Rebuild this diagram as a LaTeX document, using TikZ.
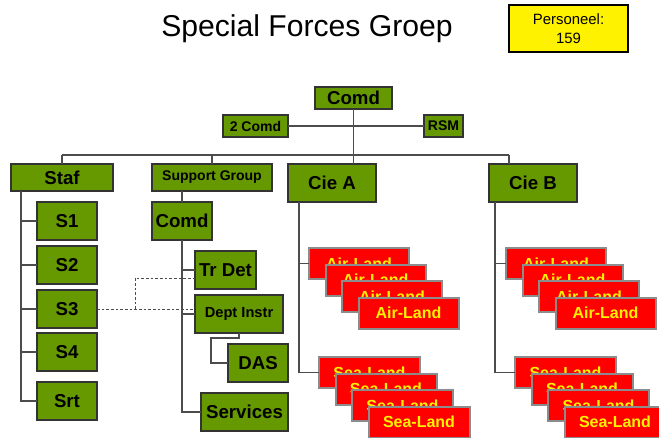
\documentclass[tikz,border=0pt]{standalone}
\usepackage{fontspec}
\setmainfont{Liberation Sans}
\definecolor{armygreen}{RGB}{102,153,0}
\tikzset{
  sz/.style 2 args={minimum width=#1*0.75pt, minimum height=#2*0.75pt},
  unit/.style={draw=black!80, line width=1pt, fill=armygreen, inner sep=0pt, outer sep=0pt,
    font=\bfseries\fontsize{14}{16}\selectfont},
  smallunit/.style={unit, font=\bfseries\fontsize{10.5}{12}\selectfont},
  team/.style={draw=black!45, line width=1.5pt, fill=red, text=yellow, inner sep=0pt, outer sep=0pt,
    font=\bfseries\fontsize{12}{14}\selectfont},
  link/.style={draw=black!70, line width=0.8pt}
}
\begin{document}
\begin{tikzpicture}[x=0.75pt,y=-0.75pt]
   \useasboundingbox (0,0) rectangle (659,438);

   \node[anchor=base, font=\fontsize{22.6}{26}\selectfont] (title) at (307,37) {Special Forces Groep};
   \node[draw, line width=1.5pt, fill=yellow, inner sep=0pt, align=center, sz={119}{47},
     font=\fontsize{11.2}{14}\selectfont] (pers) at (568.5,28.5) {Personeel:\\159};

   \node[unit, sz={77}{22}] (comd) at (353.5,98) {Comd};
   \node[smallunit, sz={65}{22}] (tweecomd) at (255.5,126) {2 Comd};
   \node[smallunit, sz={39}{22}] (rsm) at (443.5,126) {RSM};
   \node[unit, sz={102}{27}] (staf) at (62,177.5) {Staf};
   \node[smallunit, sz={120}{27}] (supgrp) at (212,177.5) {Support Group};
   \node[unit, sz={88}{38}] (ciea) at (332,183) {Cie A};
   \node[unit, sz={88}{38}] (cieb) at (533,183) {Cie B};

   \foreach \n/\lbl/\y in {s1/S1/221, s2/S2/265, s3/S3/309, s4/S4/352, srt/Srt/401}
     \node[unit, sz={60}{38}] (\n) at (67,\y) {\lbl};

   \node[unit, sz={60}{38}] (sgcomd) at (182,221) {Comd};
   \node[unit, sz={61}{38}] (trdet) at (225.5,270) {Tr Det};
   \node[unit, sz={88}{38}, font=\bfseries\fontsize{11}{13}\selectfont] (deptinstr) at (239,314) {Dept Instr};
   \node[unit, sz={60}{38}] (das) at (258,363) {DAS};
   \node[unit, sz={87}{38}] (services) at (244.5,412) {Services};

   \foreach \c/\x/\y/\w/\lbl in {airA/309/248/100/Air-Land, seaA/319/357/101/Sea-Land,
                                 airB/506/248/100/Air-Land, seaB/515/357/101/Sea-Land}
     \foreach \k in {1,...,4}
       \node[team, sz={\w}{31}] (\c\k) at (\x+\w/2+16.5*\k-16.5, \y+15.5+16.5*\k-16.5) {\lbl};

   \draw[link] (tweecomd) -- (rsm);
   \coordinate (busl) at (62,155);
   \coordinate (busr) at (509,155);
   \draw[link] (busl) -- (busr);
   \draw[link] (comd.south) -- (comd.south |- ciea.north);
   \draw[link] (staf.north) -- (staf.north |- busl);
   \draw[link] (supgrp.north) -- (supgrp.north |- busl);
   \draw[link] (busr) -- (busr |- cieb.north);

   \coordinate (stafx) at (21,0);
   \draw[link] (stafx |- staf.south) |- (srt.west);
   \foreach \n in {s1,s2,s3,s4}
     \draw[link] (stafx |- \n.west) -- (\n.west);

   \draw[link] (sgcomd.north) -- (sgcomd.north |- supgrp.south);
   \draw[link] (sgcomd.south) |- (services.west);
   \foreach \n in {trdet,deptinstr}
     \draw[link] (sgcomd.south |- \n.west) -- (\n.west);
   \draw[link] (deptinstr.south) -- ++(0,5) -- ++(-28,0) |- (das.west);

   \coordinate (dashx) at (135,278);
   \draw[link, line width=0.6pt, dash pattern=on 2pt off 1.5pt] (s3.east) -- (s3.east -| deptinstr.west);
   \draw[link, line width=0.6pt, dash pattern=on 2pt off 1.5pt] (dashx |- s3.east) |- (trdet.west |- dashx);

   \coordinate (ciax) at (299,0);
   \coordinate (cibx) at (495,0);
   \draw[link] (ciax |- ciea.south) |- (seaA1.west);
   \draw[link] (ciax |- airA1.west) -- (airA1.west);
   \draw[link] (cibx |- cieb.south) |- (seaB1.west);
   \draw[link] (cibx |- airB1.west) -- (airB1.west);
\end{tikzpicture}
\end{document}
